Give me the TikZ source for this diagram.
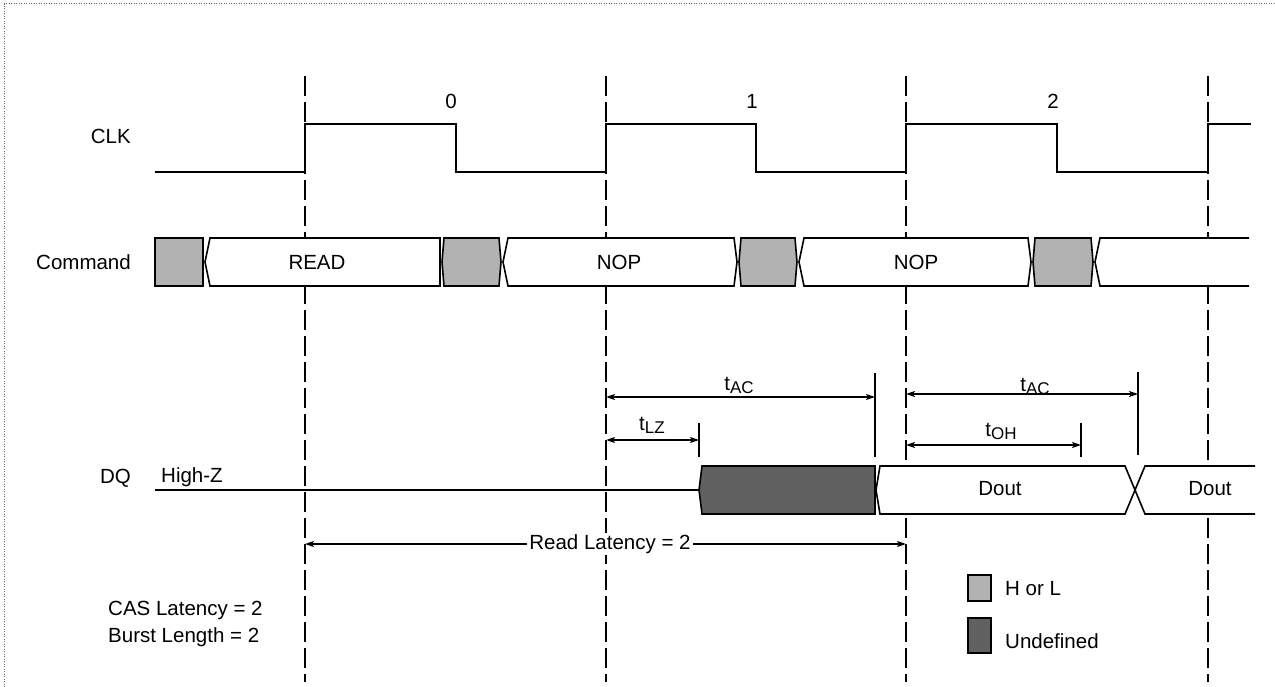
\documentclass[tikz,border=0pt]{standalone}
\usepackage{fontspec}
\setmainfont{Liberation Sans}
\usetikzlibrary{arrows.meta}
\newcommand\tsub[1]{t{\fontsize{17}{17}\selectfont\raisebox{-3pt}{#1}}}
\newcommand\busseg[5]{%
  \draw[#5] (#1+#3,238) -- (#2-#4,238) -- (#2,262) -- (#2-#4,286) -- (#1+#3,286) -- (#1,262) -- cycle;}
\begin{document}
\begin{tikzpicture}[x=1pt,y=-1pt,
  lbl/.style={inner sep=0pt, font=\fontsize{20.5}{24}\selectfont},
  sig/.style={line width=1.8pt},
  gridline/.style={line width=1.5pt, dash pattern=on 20pt off 6pt},
  hl/.style={fill=black!30, draw=black, line width=1.6pt, line join=miter},
  und/.style={fill=black!62, draw=black, line width=1.6pt},
  wbox/.style={draw=black, line width=1.6pt, fill=white},
  dimarrow/.style={line width=1.3pt, {Stealth[length=9pt,width=6pt,inset=2pt]}-{Stealth[length=9pt,width=6pt,inset=2pt]}},
  tickline/.style={line width=1.6pt},
]
\useasboundingbox (0,0) rectangle (1275,687);
\draw[black!60, line width=1pt, dash pattern=on 1pt off 1.5pt] (4,687) -- (4,4) -- (1275,4);

% grid lines
\foreach \x/\n in {305/a,606/b,906/c,1208/d}{
  \coordinate (g\n top) at (\x,76);
  \coordinate (g\n bot) at (\x,682);
  \draw[gridline] (g\n top) -- (g\n bot);
}

% labels
\node[lbl, anchor=east] (clk) at (131,136) {CLK};
\node[lbl, anchor=east] (cmd) at (131,262) {Command};
\node[lbl, anchor=east] (dq) at (131,478) {DQ};
\node[lbl] (n0) at (451,101) {0};
\node[lbl] (n1) at (752,101) {1};
\node[lbl] (n2) at (1053,101) {2};

% clock
\draw[sig] (155,172) -- (305,172) -- (305,124) -- (456,124) -- (456,172) -- (606,172) -- (606,124) -- (756,124) -- (756,172) -- (906,172) -- (906,124) -- (1057,124) -- (1057,172) -- (1208,172) -- (1208,124) -- (1251,124);

% command bus
\draw[hl] (155,238) rectangle (203,286);
\busseg{205}{440}{5}{0}{wbox}
\busseg{442}{501}{2}{2}{hl}
\busseg{503}{737}{5}{3}{wbox}
\busseg{739}{797}{2}{2}{hl}
\busseg{799}{1031}{5}{3}{wbox}
\busseg{1033}{1093}{2}{2}{hl}
\draw[wbox] (1249,238) -- (1100,238) -- (1095,262) -- (1100,286) -- (1249,286);
\node[lbl] (read) at (317,262) {READ};
\node[lbl] (nop1) at (619,262) {NOP};
\node[lbl] (nop2) at (916,262) {NOP};

% DQ
\node[lbl, anchor=west] (hz) at (161,477) {High-Z};
\draw[sig] (155,490) -- (700,490);
\draw[und] (702,466) -- (875,466) -- (875,514) -- (702,514) -- (699,490) -- cycle;
\draw[wbox] (880,466) -- (1125,466) -- (1135,490) -- (1125,514) -- (880,514) -- (876,490) -- cycle;
\draw[wbox] (1255,466) -- (1145,466) -- (1135,490) -- (1145,514) -- (1255,514);
\node[lbl] (dout1) at (1000,489) {Dout};
\node[lbl] (dout2) at (1210,489) {Dout};

% timing ticks
\coordinate (ac1t) at (875,373); \coordinate (ac1b) at (875,457);
\coordinate (lzt) at (699,423); \coordinate (lzb) at (699,457);
\coordinate (ac2t) at (1138,372); \coordinate (ac2b) at (1138,455);
\coordinate (oht) at (1081,423); \coordinate (ohb) at (1081,457);
\draw[tickline] (ac1t) -- (ac1b);
\draw[tickline] (lzt) -- (lzb);
\draw[tickline] (ac2t) -- (ac2b);
\draw[tickline] (oht) -- (ohb);

% timing arrows
\coordinate (ac1s) at (606,397); \coordinate (ac1e) at (875,397);
\coordinate (lzs) at (606,440); \coordinate (lze) at (699,440);
\coordinate (ac2s) at (906,394); \coordinate (ac2e) at (1138,394);
\coordinate (ohs) at (906,445); \coordinate (ohe) at (1081,445);
\draw[dimarrow] (ac1s) -- (ac1e);
\draw[dimarrow] (lzs) -- (lze);
\draw[dimarrow] (ac2s) -- (ac2e);
\draw[dimarrow] (ohs) -- (ohe);
\node[lbl, anchor=base] (tac1) at (739,390) {\tsub{AC}};
\node[lbl, anchor=base] (tlz) at (652,430) {\tsub{LZ}};
\node[lbl, anchor=base] (tac2) at (1035,391) {\tsub{AC}};
\node[lbl, anchor=base] (toh) at (1001,436) {\tsub{OH}};

% read latency
\coordinate (rls) at (305,544); \coordinate (rle) at (906,544);
\draw[dimarrow] (rls) -- (rle);
\node[lbl, fill=white, inner xsep=2pt, inner ysep=1pt] (rl) at (610,544) {Read Latency = 2};

% notes
\node[lbl, anchor=west] (cas) at (108,610) {CAS Latency = 2};
\node[lbl, anchor=west] (bl) at (108,637) {Burst Length = 2};

% legend
\draw[hl] (968,575) rectangle (991,601);
\node[lbl, anchor=west] (lhl) at (1005,589) {H or L};
\draw[und] (968,618) rectangle (991,653);
\node[lbl, anchor=west] (lund) at (1005,641) {Undefined};
\end{tikzpicture}
\end{document}
